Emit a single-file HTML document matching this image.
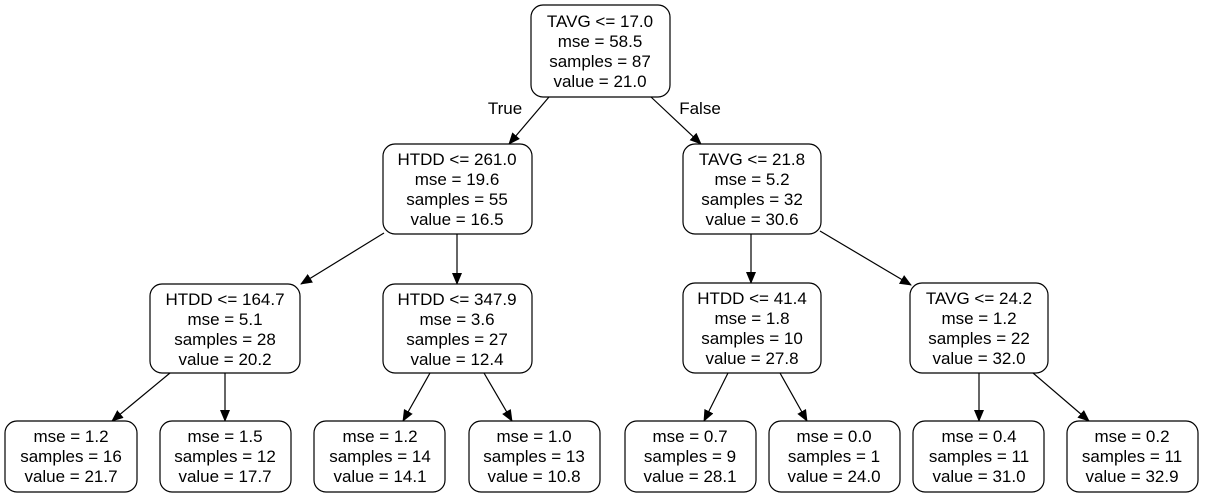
<!DOCTYPE html>
<html><head><meta charset="utf-8"><style>
html,body{margin:0;padding:0;background:#fff;}
svg{display:block;}
text{font-family:"Liberation Sans",Helvetica,Arial,sans-serif;font-size:17px;fill:#000;text-anchor:middle;}
rect{fill:#fff;stroke:#000;stroke-width:1.2;}
line{stroke:#000;stroke-width:1.2;}
</style></head><body>
<svg width="1207" height="497" viewBox="0 0 1207 497" xmlns="http://www.w3.org/2000/svg">
<defs><marker id="a" markerWidth="12" markerHeight="10" refX="11" refY="5" orient="auto" markerUnits="userSpaceOnUse"><path d="M0,0 L12,5 L0,10 z" fill="#000"/></marker></defs>
<g marker-end="url(#a)">
<line x1="549" y1="97" x2="509" y2="144"/>
<line x1="651" y1="97" x2="701" y2="144"/>
<line x1="384" y1="233" x2="301" y2="284"/>
<line x1="457" y1="234" x2="457" y2="284"/>
<line x1="751" y1="234" x2="751" y2="283"/>
<line x1="820" y1="231" x2="911" y2="285"/>
<line x1="170" y1="373" x2="112" y2="421"/>
<line x1="225" y1="373" x2="225" y2="421"/>
<line x1="430" y1="373" x2="403" y2="421"/>
<line x1="484" y1="373" x2="512" y2="421"/>
<line x1="728" y1="373" x2="704" y2="421"/>
<line x1="780" y1="373" x2="807" y2="421"/>
<line x1="979" y1="373" x2="979" y2="421"/>
<line x1="1033" y1="373" x2="1089" y2="421"/>
</g>
<text x="505" y="114">True</text>
<text x="700" y="114">False</text>

<rect x="531" y="5" width="139" height="92" rx="12"/>
<text x="600" y="27">TAVG &lt;= 17.0</text><text x="600" y="47">mse = 58.5</text><text x="600" y="67">samples = 87</text><text x="600" y="87">value = 21.0</text>

<rect x="383" y="144" width="149" height="90" rx="12"/>
<text x="457" y="165">HTDD &lt;= 261.0</text><text x="457" y="185">mse = 19.6</text><text x="457" y="205">samples = 55</text><text x="457" y="225">value = 16.5</text>

<rect x="683" y="144" width="138" height="90" rx="12"/>
<text x="752" y="165">TAVG &lt;= 21.8</text><text x="752" y="185">mse = 5.2</text><text x="752" y="205">samples = 32</text><text x="752" y="225">value = 30.6</text>

<rect x="150" y="284" width="150" height="89" rx="12"/>
<text x="225" y="305">HTDD &lt;= 164.7</text><text x="225" y="325">mse = 5.1</text><text x="225" y="345">samples = 28</text><text x="225" y="365">value = 20.2</text>

<rect x="383" y="284" width="149" height="89" rx="12"/>
<text x="457" y="305">HTDD &lt;= 347.9</text><text x="457" y="325">mse = 3.6</text><text x="457" y="345">samples = 27</text><text x="457" y="365">value = 12.4</text>

<rect x="683" y="283" width="138" height="90" rx="12"/>
<text x="752" y="304">HTDD &lt;= 41.4</text><text x="752" y="324">mse = 1.8</text><text x="752" y="344">samples = 10</text><text x="752" y="364">value = 27.8</text>

<rect x="910" y="283" width="138" height="90" rx="12"/>
<text x="979" y="304">TAVG &lt;= 24.2</text><text x="979" y="324">mse = 1.2</text><text x="979" y="344">samples = 22</text><text x="979" y="364">value = 32.0</text>

<rect x="5" y="421" width="132" height="71" rx="12"/>
<text x="71" y="442">mse = 1.2</text><text x="71" y="462">samples = 16</text><text x="71" y="482">value = 21.7</text>
<rect x="160" y="421" width="131" height="71" rx="12"/>
<text x="225" y="442">mse = 1.5</text><text x="225" y="462">samples = 12</text><text x="225" y="482">value = 17.7</text>
<rect x="314" y="421" width="131" height="71" rx="12"/>
<text x="380" y="442">mse = 1.2</text><text x="380" y="462">samples = 14</text><text x="380" y="482">value = 14.1</text>
<rect x="469" y="421" width="131" height="71" rx="12"/>
<text x="534" y="442">mse = 1.0</text><text x="534" y="462">samples = 13</text><text x="534" y="482">value = 10.8</text>
<rect x="625" y="421" width="131" height="71" rx="12"/>
<text x="690" y="442">mse = 0.7</text><text x="690" y="462">samples = 9</text><text x="690" y="482">value = 28.1</text>
<rect x="769" y="421" width="131" height="71" rx="12"/>
<text x="834" y="442">mse = 0.0</text><text x="834" y="462">samples = 1</text><text x="834" y="482">value = 24.0</text>
<rect x="913" y="421" width="131" height="71" rx="12"/>
<text x="979" y="442">mse = 0.4</text><text x="979" y="462">samples = 11</text><text x="979" y="482">value = 31.0</text>
<rect x="1067" y="421" width="131" height="71" rx="12"/>
<text x="1132" y="442">mse = 0.2</text><text x="1132" y="462">samples = 11</text><text x="1132" y="482">value = 32.9</text>
</svg>
</body></html>
